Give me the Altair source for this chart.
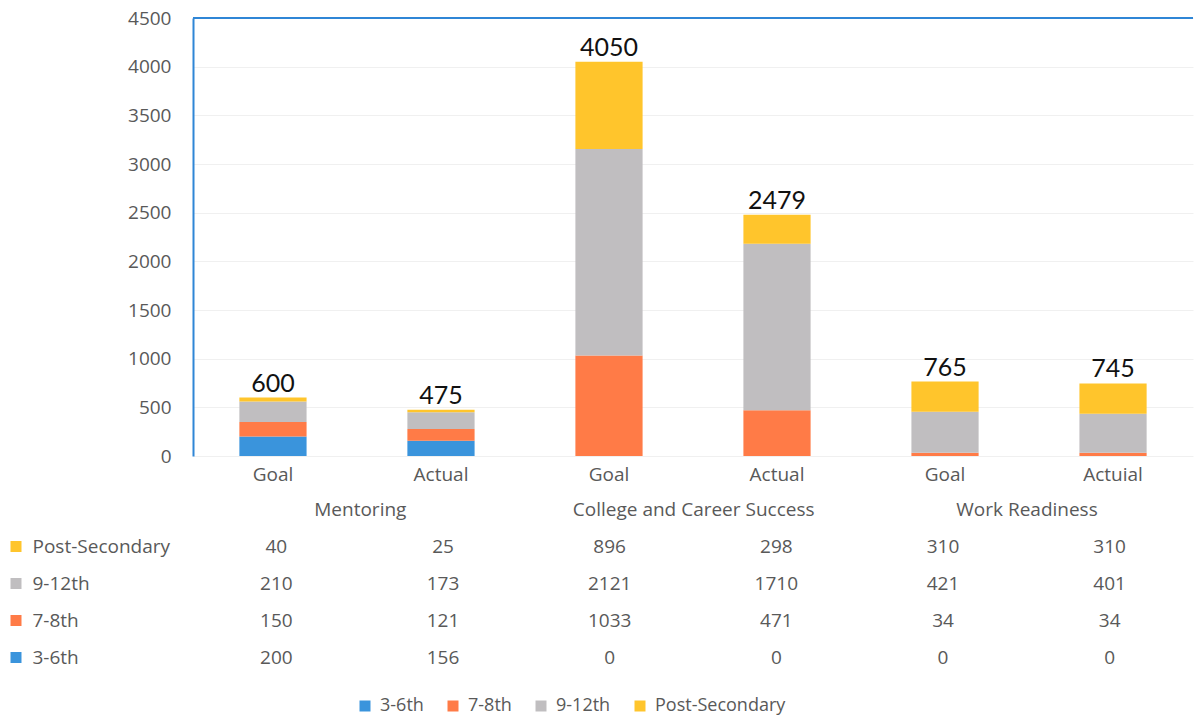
import altair as alt
import pandas as pd

# ---- data -------------------------------------------------------------
groups = ["Mentoring", "Mentoring",
          "College and Career Success", "College and Career Success",
          "Work Readiness", "Work Readiness"]
bar_labels = ["Goal", "Actual", "Goal", "Actual", "Goal", "Actuial"]
series = ["3-6th", "7-8th", "9-12th", "Post-Secondary"]
vals_3_6 = [200, 156, 0, 0, 0, 0]
vals_7_8 = [150, 121, 1033, 471, 34, 34]
vals_9_12 = [210, 173, 2121, 1710, 421, 401]
vals_post = [40, 25, 896, 298, 310, 310]
colors = ["#3A94DC", "#FF7B47", "#C0BEC0", "#FFC52C"]
y_ticks = [0, 500, 1000, 1500, 2000, 2500, 3000, 3500, 4000, 4500]

series_vals = {"3-6th": vals_3_6, "7-8th": vals_7_8,
               "9-12th": vals_9_12, "Post-Secondary": vals_post}
keys = [f"{g}|{b}" for g, b in zip(groups, bar_labels)]

rows = []
for si, s in enumerate(series):
    for k, v in zip(keys, series_vals[s]):
        rows.append({"col": k, "series": s, "value": v, "sidx": si, "text": str(v)})
df = pd.DataFrame(rows)

totals = pd.DataFrame({
    "col": keys,
    "total": [sum(series_vals[s][i] for s in series) for i in range(len(keys))],
})

group_rows = pd.DataFrame({
    "col": [keys[0], keys[2], keys[4]],
    "row": ["grp"] * 3,
    "text": [groups[0], groups[2], groups[4]],
})
table_df = df.assign(row=df["series"])[["col", "row", "text"]]
row_order = ["grp", "Post-Secondary", "9-12th", "7-8th", "3-6th"]
sq_df = pd.DataFrame({"series": series, "row": series})

# ---- styling ----------------------------------------------------------
FONT = "Open Sans"
TFONT = "Lato"
GRAY = "#595959"
BLUE = "#2F86D6"
FS = 19
W = 1000
STEP = 168
xscale = alt.Scale(paddingInner=0.6, paddingOuter=0.276)
color_scale = alt.Scale(domain=series, range=colors)

# ---- bar chart --------------------------------------------------------
base = alt.Chart(df)
bars = base.mark_bar().encode(
    x=alt.X("col:N", sort=keys, scale=xscale,
            axis=alt.Axis(title=None, labelAngle=0, ticks=False, domain=False,
                          labelExpr="split(datum.value, '|')[1]",
                          labelFontSize=FS, labelColor=GRAY, labelFont=FONT,
                          labelPadding=9)),
    y=alt.Y("value:Q", stack="zero", scale=alt.Scale(domain=[0, 4500]),
            axis=alt.Axis(title=None, values=y_ticks, ticks=False, format="d",
                          domainColor=BLUE, domainWidth=2,
                          grid=True, gridColor="#f0f0f0",
                          labelFontSize=FS, labelColor=GRAY, labelFont=FONT,
                          labelPadding=22)),
    color=alt.Color("series:N", scale=color_scale,
                    legend=alt.Legend(title=None, orient="none", direction="horizontal",
                                      legendX=163, legendY=679,
                                      symbolType="square", symbolSize=121,
                                      symbolStrokeWidth=0, symbolOpacity=1,
                                      labelFontSize=18, labelColor=GRAY, labelFont=FONT,
                                      columnPadding=20, labelOffset=6)),
    order=alt.Order("sidx:Q"),
)

labels = alt.Chart(totals).mark_text(
    baseline="bottom", dy=-1, fontSize=25, font=TFONT, color="#111111"
).encode(
    x=alt.X("col:N", sort=keys, scale=xscale),
    y=alt.Y("total:Q"),
    text="total:Q",
)

top_line = alt.Chart(totals).mark_rule(color=BLUE, strokeWidth=2).encode(
    x=alt.value(0), x2=alt.value(W), y=alt.value(0)
)

bar_chart = alt.layer(bars, labels, top_line).properties(width=W, height=438)

# ---- data table -------------------------------------------------------
yrow = alt.Y("row:N", sort=row_order, scale=alt.Scale(paddingInner=0, paddingOuter=0),
             axis=alt.Axis(title=None, ticks=False, domain=False,
                           labelExpr="datum.value == 'grp' ? '' : datum.value",
                           labelAlign="left", labelPadding=161,
                           labelFontSize=FS, labelColor=GRAY, labelFont=FONT))

cells = alt.Chart(table_df).mark_text(fontSize=FS, font=FONT, color=GRAY).encode(
    x=alt.X("col:N", sort=keys, scale=xscale, axis=None),
    y=yrow,
    text="text:N",
)
group_text = alt.Chart(group_rows).mark_text(
    fontSize=FS, font=FONT, color=GRAY, dx=STEP / 2
).encode(
    x=alt.X("col:N", sort=keys, scale=xscale, axis=None),
    y=yrow,
    text="text:N",
)
squares = alt.Chart(sq_df).mark_point(
    shape="square", size=121, filled=True, opacity=1
).encode(
    x=alt.value(-177),
    y=yrow,
    color=alt.Color("series:N", scale=color_scale),
)

table = alt.layer(cells, group_text, squares).properties(width=W, height=185)

chart = alt.vconcat(bar_chart, table, spacing=7).properties(
    padding={"left": 10, "top": 9, "right": 0, "bottom": 0}
).configure(font=FONT).configure_view(strokeWidth=0)

chart.save("out.html", embed_options={"renderer": "svg", "actions": False})
